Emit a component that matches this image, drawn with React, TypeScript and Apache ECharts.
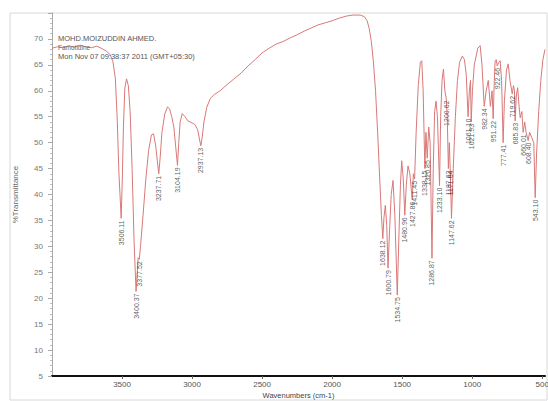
import React, { useEffect, useRef } from "react";
import * as echarts from "echarts";

const xTickValues = [3500, 3000, 2500, 2000, 1500, 1000, 500];
const yTickValues = [5, 10, 15, 20, 25, 30, 35, 40, 45, 50, 55, 60, 65, 70];

const headerLines = [
  "MOHD.MOIZUDDIN AHMED.",
  "Famotidine",
  "Mon Nov 07 09:38:37 2011 (GMT+05:30)",
];

// wavenumber (cm-1), % transmittance
const spectrum: [number, number][] = [
  [4000, 68.2], [3960, 68.5], [3920, 68.3], [3880, 68.7], [3840, 68.4], [3800, 68.8], [3760, 68.5],
  [3720, 68.3], [3680, 68.6], [3640, 68.1], [3610, 67.6], [3585, 67.0], [3565, 65.6], [3548, 62.5],
  [3535, 55], [3522, 44], [3506, 35.4], [3498, 43], [3490, 53], [3480, 60.5], [3468, 62.3], [3455, 61],
  [3442, 56], [3428, 45], [3414, 31], [3400, 21.3], [3391, 25], [3385, 27.8], [3377, 27.5], [3368, 30],
  [3350, 36], [3330, 43], [3310, 48.5], [3290, 51.5], [3275, 51.7], [3260, 49.5], [3248, 46.5],
  [3237.7, 44], [3228, 47], [3215, 52], [3195, 55.5], [3175, 56.9], [3160, 56.5], [3145, 55], [3130, 53],
  [3116, 49], [3104, 45.6], [3095, 50], [3085, 54], [3070, 55.6], [3050, 55], [3030, 54.2], [3000, 53.8],
  [2980, 53.5], [2960, 52.5], [2946, 50.5], [2937, 49.4], [2928, 51], [2915, 54], [2895, 56.8],
  [2870, 58.5], [2840, 59.3], [2800, 60], [2750, 61.2], [2700, 62.3], [2650, 63.4], [2600, 64.8],
  [2550, 66], [2500, 67.3], [2450, 68.2], [2400, 69], [2350, 69.5], [2300, 70.2], [2250, 70.8],
  [2200, 71.5], [2150, 72.1], [2100, 72.7], [2050, 73.1], [2000, 73.5], [1950, 74], [1900, 74.4],
  [1850, 74.6], [1800, 74.6], [1770, 74.3], [1750, 73.5], [1735, 72], [1720, 69.5], [1705, 65.5],
  [1690, 60], [1675, 52], [1660, 43], [1648, 36], [1638, 31.5], [1630, 35.5], [1620, 37.9], [1610, 34],
  [1600.8, 25.8], [1590, 33], [1578, 40], [1565, 42.7], [1552, 36], [1534.75, 20.6], [1522, 33],
  [1512, 42], [1503, 46.5], [1492, 43], [1481, 36], [1470, 42], [1458, 45.5], [1445, 44], [1428, 39],
  [1420, 44], [1411, 43], [1400, 52], [1385, 61], [1370, 65.5], [1360, 65.8], [1350, 60], [1338, 45],
  [1330, 52], [1321, 47], [1310, 53], [1300, 50], [1287, 27.7], [1278, 45], [1268, 56], [1258, 58],
  [1248, 55], [1233, 41.7], [1225, 55], [1215, 62], [1205, 64.2], [1195, 60], [1185, 58.5], [1178, 55],
  [1170, 45], [1163, 50], [1157, 45], [1147.6, 35.4], [1135, 45], [1120, 55], [1105, 62], [1090, 65.5],
  [1070, 66.7], [1055, 66], [1042, 63], [1029, 55], [1020, 60], [1012, 62], [1007, 54], [998, 60],
  [985, 65], [960, 68.2], [943, 68.7], [930, 65], [914, 57], [900, 60], [885, 62], [870, 57], [858, 60],
  [850, 54.6], [842, 62], [836, 65.8], [828, 66], [821, 64.8], [810, 65.5], [800, 65.8], [790, 62],
  [779, 50], [770, 58], [755, 64], [743, 65.2], [730, 62], [714, 59.4], [705, 61], [698, 60], [693, 54.2],
  [685, 59], [675, 60.6], [665, 57], [657, 54.8], [645, 56], [636, 52], [625, 54], [615, 52], [600, 50.4],
  [590, 52], [575, 51], [560, 50], [550, 39.4], [540, 48], [525, 56], [510, 62], [495, 66], [480, 68],
];

// peak label anchors (position) and the printed label text
const peakWn = [
  3506, 3400, 3377, 3237.7, 3104, 2937, 1638, 1600.8, 1534.75, 1481, 1428, 1411, 1338, 1321, 1287, 1233,
  1185, 1170, 1157, 1147.6, 1029, 1007, 914, 850, 821, 779, 714, 693, 636, 600, 550,
];
const peakT = [
  35.4, 21.3, 27.5, 44, 45.6, 49.4, 31.5, 25.8, 20.6, 36, 39, 43, 45, 47, 27.7, 41.7,
  58.5, 45, 45, 35.4, 55, 54, 57, 54.6, 64.8, 50, 59.4, 54.2, 52, 50.4, 39.4,
];
const peakText = [
  "3506.11", "3400.37", "3377.52", "3237.71", "3104.19", "2937.13", "1638.12", "1600.79", "1534.75",
  "1480.96", "1427.86", "1411.45", "1338.15", "1320.85", "1286.87", "1233.10", "1200.62", "1187.62",
  "1171.64", "1147.62", "1061.10", "1021.93", "982.34", "951.22", "922.46", "777.41", "719.62",
  "685.83", "660.01", "608.40", "543.10",
];

const FONT = "'Liberation Sans', Arial, sans-serif";

export default function App() {
  const ref = useRef<HTMLDivElement>(null);
  useEffect(() => {
    if (!ref.current) return;
    const chart = echarts.init(ref.current, undefined, { renderer: "svg" });
    const peaks = peakWn.map((w, i) => [w, peakT[i], peakText[i]]);
    chart.setOption({
      animation: false,
      backgroundColor: "#ffffff",
      textStyle: { fontFamily: FONT },
      grid: { left: 52, right: 3, top: 13, bottom: 25, containLabel: false, outerBoundsMode: "none" },
      xAxis: {
        type: "value",
        inverse: true,
        min: 480,
        max: 4000,
        name: "Wavenumbers (cm-1)",
        nameLocation: "middle",
        nameGap: 15,
        nameMoveOverlap: false,
        nameTextStyle: { fontSize: 7.5, color: "#444", fontFamily: FONT },
        axisLine: { show: true, onZero: false, lineStyle: { color: "#111", width: 2 } },
        axisTick: { show: true, customValues: xTickValues, length: 3, lineStyle: { color: "#666" } },
        axisLabel: {
          customValues: xTickValues,
          formatter: (v: number) => String(v),
          fontSize: 8,
          color: "#555",
          margin: 4,
          fontFamily: FONT,
        },
        splitLine: { show: false },
      },
      yAxis: {
        type: "value",
        min: 5,
        max: 75,
        interval: 5,
        name: "%Transmittance",
        nameLocation: "middle",
        nameGap: 33,
        nameMoveOverlap: false,
        nameTextStyle: { fontSize: 8, color: "#666", fontFamily: FONT },
        axisLine: { show: true, lineStyle: { color: "#aaa", width: 1 } },
        axisTick: { show: true, length: 4, lineStyle: { color: "#aaa" } },
        minorTick: { show: true, splitNumber: 5, length: 2, lineStyle: { color: "#bbb" } },
        axisLabel: {
          formatter: (v: number) => (yTickValues.indexOf(v) >= 0 ? String(v) : ""),
          fontSize: 8,
          color: "#777",
          margin: 9,
          fontFamily: FONT,
        },
        splitLine: { show: false },
      },
      graphic: [
        {
          type: "rect",
          shape: { x: 10, y: 13, width: 537, height: 387 },
          style: { fill: "none", stroke: "#d8d8d8", lineWidth: 1 },
          silent: true,
          z: -1,
        },
        {
          type: "text",
          x: 58,
          y: 34,
          style: { text: headerLines[0], fontSize: 7.5, fill: "#555", fontFamily: FONT },
          z: 10,
        },
        {
          type: "text",
          x: 58,
          y: 44,
          style: { text: headerLines[1], fontSize: 6.5, fill: "#666", fontFamily: FONT },
          z: 10,
        },
        {
          type: "text",
          x: 58,
          y: 52,
          style: { text: headerLines[2], fontSize: 7.5, fill: "#555", fontFamily: FONT },
          z: 10,
        },
      ],
      series: [
        {
          type: "line",
          data: spectrum,
          showSymbol: false,
          smooth: false,
          lineStyle: { color: "#d97878", width: 1 },
          z: 3,
        },
        {
          type: "scatter",
          data: peaks,
          symbolSize: 0,
          z: 4,
          label: {
            show: true,
            formatter: (p: any) => p.data[2],
            position: "bottom",
            distance: 2,
            rotate: 90,
            align: "right",
            verticalAlign: "middle",
            fontSize: 7,
            color: "#333",
            fontFamily: FONT,
          },
        },
      ],
    });
    return () => chart.dispose();
  }, []);
  return (
    <div style={{ position: "fixed", left: 0, top: 0, width: 548, height: 401, background: "#fff" }}>
      <div ref={ref} style={{ width: 548, height: 401 }} />
    </div>
  );
}
